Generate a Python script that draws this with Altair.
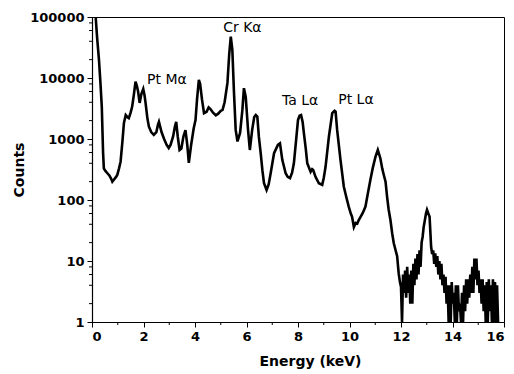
import altair as alt
import pandas as pd

# ---- spectrum data ----
energy_kev = [
    0.00, 0.10, 0.15, 0.20, 0.27, 0.33, 0.38, 0.43, 0.46, 0.52, 0.59, 0.68, 0.75, 0.79, 0.85, 0.92, 0.98,
    1.05, 1.11, 1.18, 1.24, 1.31, 1.37, 1.43, 1.50, 1.56, 1.63, 1.69, 1.74, 1.79, 1.85, 1.92, 1.99,
    2.04, 2.08, 2.15, 2.21, 2.30, 2.40, 2.50, 2.56, 2.60, 2.70, 2.80, 2.90, 2.98, 3.05, 3.15, 3.22,
    3.27, 3.33, 3.40, 3.47, 3.55, 3.63, 3.70, 3.76, 3.85, 3.95, 4.02, 4.08, 4.15, 4.20, 4.27, 4.35,
    4.45, 4.53, 4.60, 4.70, 4.81, 4.90, 5.00, 5.07, 5.15, 5.26, 5.33, 5.39, 5.45, 5.51, 5.58, 5.65,
    5.75, 5.84, 5.90, 5.97, 6.06, 6.13, 6.22, 6.30, 6.36, 6.42, 6.48, 6.55, 6.62, 6.68, 6.78, 6.86,
    6.94, 7.07, 7.22, 7.30, 7.39, 7.52, 7.60, 7.69, 7.77, 7.84, 7.92, 8.00, 8.06, 8.12, 8.18, 8.23,
    8.30, 8.36, 8.49, 8.55, 8.59, 8.68, 8.81, 8.94, 9.00, 9.07, 9.20, 9.33, 9.42, 9.46, 9.52, 9.65,
    9.78, 9.88, 9.97, 10.05, 10.10, 10.17, 10.24, 10.30, 10.36, 10.43, 10.52, 10.62, 10.70, 10.81,
    10.90, 11.01, 11.10, 11.20, 11.27, 11.33, 11.40, 11.46, 11.52, 11.59, 11.66, 11.72, 11.79, 11.85,
    11.91, 11.96, 12.00,
    12.04, 12.08, 12.12, 12.16, 12.20, 12.24, 12.28, 12.32, 12.36, 12.40, 12.44, 12.48, 12.52, 12.56,
    12.60, 12.64, 12.68, 12.72, 12.76, 12.80, 12.84, 12.88, 12.92, 12.97, 13.01, 13.05, 13.11, 13.14,
    13.17, 13.21, 13.25, 13.29, 13.33, 13.37, 13.41, 13.45, 13.49, 13.53, 13.57, 13.61, 13.65, 13.69,
    13.73, 13.77, 13.81, 13.85, 13.89, 13.93, 13.97, 14.01, 14.05, 14.09, 14.13, 14.17, 14.21, 14.25,
    14.29, 14.33, 14.37, 14.41, 14.45, 14.49, 14.53, 14.57, 14.61, 14.65, 14.69, 14.73, 14.77, 14.81,
    14.85, 14.89, 14.93, 14.97, 15.01, 15.05, 15.09, 15.13, 15.17, 15.21, 15.25, 15.29, 15.33, 15.37,
    15.41, 15.45, 15.49, 15.53, 15.57, 15.61, 15.65, 15.69, 15.73, 15.77, 15.81,
]
counts = [
    300000, 200000, 90000, 45000, 20000, 8000, 3400, 600, 330, 300, 277, 250, 220, 200, 215, 235, 256,
    330, 425, 900, 1830, 2460, 2300, 2200, 2700, 3400, 5500, 8700, 7500, 6000, 3900, 5500, 6600,
    5200, 3900, 2200, 1590, 1300, 1170, 1300, 1700, 1910, 1300, 1000, 800, 710, 800, 1100, 1600,
    1910, 1100, 660, 700, 1100, 1400, 800, 405, 800, 1500, 2040, 4500, 9300, 8000, 4500, 2650,
    2800, 3300, 3100, 2700, 2450, 2600, 2900, 3000, 4000, 8300, 25000, 47500, 29000, 6300, 1410, 910,
    1260, 3000, 6800, 4900, 1410, 660, 1410, 2300, 2470, 2330, 1090, 590, 300, 188, 146, 180,
    277, 585, 800, 850, 455, 275, 240, 228, 280, 400, 900, 2040, 2400, 2470, 1900, 1240,
    700, 400, 290, 320, 310, 240, 188, 177, 230, 350, 1090, 2650, 2900, 2800, 1410, 455,
    165, 110, 78, 60, 53, 36, 42, 41, 47, 53, 62, 78, 120, 213,
    330, 513, 660, 480, 330, 260, 200, 113, 70, 47, 28, 19.5, 15, 12,
    6.3, 4.5, 3.8,
    1, 6, 3, 7, 2.5, 8, 3, 6, 2, 7, 2, 9, 4, 11,
    5, 13, 6, 15, 8, 20, 25, 36, 45, 60, 69, 62, 53, 30,
    17, 13, 15, 9, 13.4, 8, 12, 6, 10, 5, 9, 4, 6, 3,
    5.5, 2, 4, 1, 4, 1, 4.5, 2, 3, 1, 4, 1, 4, 1.5,
    2, 1, 3, 1, 4, 1.5, 5, 2, 5, 2.5, 6, 3, 8, 3,
    11, 5, 11, 4, 7, 3, 5, 2, 5, 1.5, 4, 1, 4.5, 1,
    5, 1.5, 4, 1, 5, 1, 4.5, 1, 4, 1, 1,
]

# peak labels
label_text = ["Pt Mα", "Cr Kα", "Ta Lα", "Pt Lα"]
label_energy = [2.91, 5.84, 8.08, 10.25]
label_counts = [9300, 66000, 4200, 4300]

# axis ticks
x_major = [0, 2, 4, 6, 8, 10, 12, 14, 16]
x_minor = [1, 3, 5, 7, 9, 11, 13, 15]
y_major = [1, 10, 100, 1000, 10000, 100000]
y_minor = [m * 10 ** k for k in range(5) for m in (2, 4, 6, 8)]

spec = pd.DataFrame({"E": energy_kev, "C": counts})
labels = pd.DataFrame({"t": label_text, "E": label_energy, "C": label_counts})
xm = pd.DataFrame({"E": x_minor})
ym = pd.DataFrame({"C": y_minor})

W, H = 412, 305
FONT = "DejaVu Sans"

xscale = alt.Scale(domain=[0, 16], nice=False, zero=False)
yscale = alt.Scale(type="log", domain=[1, 100000], nice=False)

line = alt.Chart(spec).mark_line(color="black", strokeWidth=2.6, clip=True).encode(
    x=alt.X("E:Q", scale=xscale,
            axis=alt.Axis(values=x_major, title="Energy (keV)", format="d",
                          titleX=218, titleY=39, titleBaseline="middle", titleAlign="center")),
    y=alt.Y("C:Q", scale=yscale,
            axis=alt.Axis(values=y_major, title="Counts", format="d",
                          titleX=-73, titleY=H / 2, titleAngle=-90,
                          titleAlign="center", titleBaseline="middle")),
)

text = alt.Chart(labels).mark_text(font=FONT, fontSize=14, color="black",
                                    align="center", baseline="middle").encode(
    x=alt.X("E:Q", scale=xscale),
    y=alt.Y("C:Q", scale=yscale),
    text="t:N",
)

xminor = alt.Chart(xm).mark_rule(color="black", strokeWidth=1, clip=False).encode(
    x=alt.X("E:Q", scale=xscale),
    y=alt.value(H),
    y2=alt.value(H + 3),
)

yminor = alt.Chart(ym).mark_rule(color="black", strokeWidth=1, clip=False).encode(
    y=alt.Y("C:Q", scale=yscale),
    x=alt.value(-3),
    x2=alt.value(0),
)

chart = alt.layer(line, text, xminor, yminor).properties(
    width=W, height=H,
    padding={"left": 92, "top": 17, "right": 10, "bottom": 52},
    autosize=alt.AutoSizeParams(type="none"),
    background="white",
).configure_view(
    stroke="black", strokeWidth=1
).configure_axis(
    grid=False, domainColor="black", domainWidth=1.2, tickColor="black", tickSize=5,
    labelColor="black", labelFont=FONT, labelFontSize=13, labelFontWeight="bold",
    labelPadding=3, titleColor="black", titleFont=FONT, titleFontSize=14,
    titleFontWeight="bold",
)

chart.save("out.html", embed_options={"renderer": "svg", "actions": False})
